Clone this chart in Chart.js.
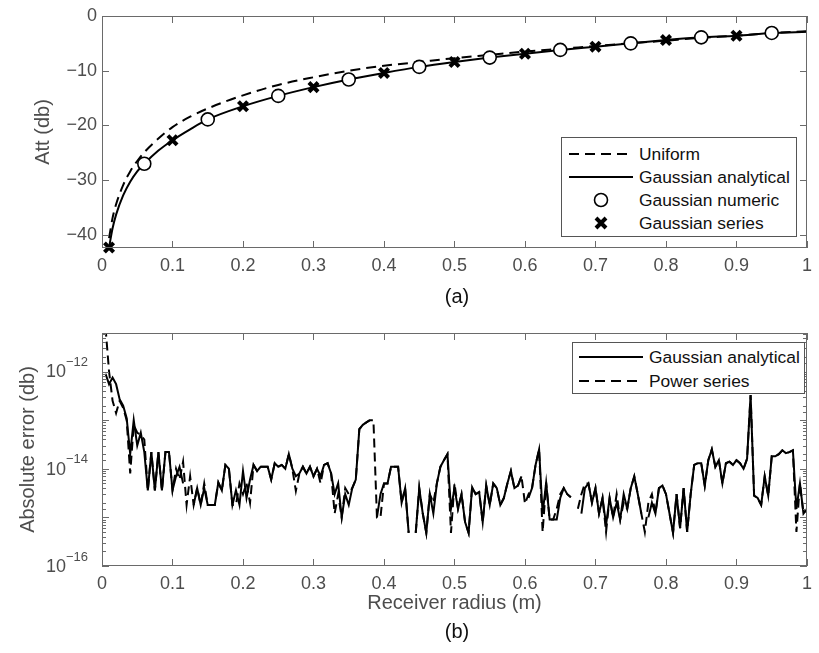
<!DOCTYPE html>
<html>
<head>
<meta charset="utf-8">
<script src="https://cdn.jsdelivr.net/npm/chart.js@4.4.1/dist/chart.umd.min.js"></script>
<style>
  body { margin: 0; background: #fff; }
  #fig { position: relative; width: 819px; height: 653px; background: #fff; font-family: "Liberation Sans", Arial, sans-serif; }
  canvas { position: absolute; left: 0; }
  .panel { position: absolute; left: 0; width: 914px; text-align: center; font-size: 20px; color: #111; }
  .legend { position: absolute; background: #fff; border: 1px solid #555; }
  .row { position: absolute; left: 0; height: 22px; width: 100%; }
  .row svg { position: absolute; left: 0; top: 0; }
  .row span { position: absolute; font-size: 17.4px; line-height: 22px; color: #111; white-space: nowrap; }
</style>
</head>
<body>
<div id="fig">
  <canvas id="attChart" width="819" height="320" style="top:0"></canvas>
  <canvas id="errChart" width="819" height="333" style="top:320px"></canvas>
  <div class="panel" style="top:285px">(a)</div>
  <div class="panel" style="top:620px">(b)</div>

  <div class="legend" style="left:561px;top:137px;width:234px;height:98px">
    <div class="row" style="top:5px">
      <svg width="76" height="22"><line x1="7" y1="11" x2="71" y2="11" stroke="#000" stroke-width="2" stroke-dasharray="10,6"/></svg>
      <span style="left:77px">Uniform</span>
    </div>
    <div class="row" style="top:28px">
      <svg width="76" height="22"><line x1="7" y1="11" x2="71" y2="11" stroke="#000" stroke-width="2"/></svg>
      <span style="left:77px">Gaussian analytical</span>
    </div>
    <div class="row" style="top:51px">
      <svg width="76" height="22"><circle cx="39" cy="11" r="6.5" fill="#fff" stroke="#000" stroke-width="1.6"/></svg>
      <span style="left:77px">Gaussian numeric</span>
    </div>
    <div class="row" style="top:74px">
      <svg width="76" height="22"><path d="M34 6 L44 16 M44 6 L34 16" stroke="#000" stroke-width="4"/></svg>
      <span style="left:77px">Gaussian series</span>
    </div>
  </div>

  <div class="legend" style="left:572px;top:342px;width:231px;height:50px">
    <div class="row" style="top:3px">
      <svg width="76" height="22"><line x1="6" y1="11" x2="70" y2="11" stroke="#000" stroke-width="2"/></svg>
      <span style="left:76px">Gaussian analytical</span>
    </div>
    <div class="row" style="top:27px">
      <svg width="76" height="22"><line x1="6" y1="11" x2="70" y2="11" stroke="#000" stroke-width="2" stroke-dasharray="10,6"/></svg>
      <span style="left:76px">Power series</span>
    </div>
  </div>
</div>

<script>
// ---- panel (a): attenuation vs receiver radius ----
const curveR = [0.01, 0.015, 0.02, 0.03, 0.04, 0.05, 0.06, 0.08, 0.1, 0.125, 0.15, 0.2, 0.25, 0.3, 0.35,
                0.4, 0.45, 0.5, 0.55, 0.6, 0.65, 0.7, 0.75, 0.8, 0.85, 0.9, 0.95, 1.0];
const uniformAtt = [-40.6, -36.9, -34.4, -30.9, -28.4, -26.5, -24.9, -22.4, -20.3, -18.4, -16.9, -14.5, -12.6, -11.2, -10.0,
                    -9.1, -8.4, -7.7, -7.1, -6.5, -6.0, -5.5, -5.0, -4.5, -4.0, -3.6, -3.1, -2.8];
const gaussAtt = [-42.3, -38.8, -36.3, -32.8, -30.3, -28.4, -27.0, -24.6, -22.7, -20.7, -18.9, -16.5, -14.6, -13.0, -11.6,
                  -10.4, -9.3, -8.4, -7.6, -6.9, -6.2, -5.6, -5.0, -4.4, -3.9, -3.6, -3.1, -2.9];
const numericR = [0.06, 0.15, 0.25, 0.35, 0.45, 0.55, 0.65, 0.75, 0.85, 0.95];
const numericAtt = [-27.0, -18.9, -14.6, -11.6, -9.3, -7.6, -6.2, -5.0, -3.9, -3.1];
const seriesR = [0.01, 0.1, 0.2, 0.3, 0.4, 0.5, 0.6, 0.7, 0.8, 0.9];
const seriesAtt = [-42.3, -22.7, -16.5, -13.0, -10.4, -8.4, -6.9, -5.6, -4.4, -3.6];
const attTicks = [0, -10, -20, -30, -40];

// ---- panel (b): absolute error, radius grid 0.005 .. 1.0 ----
const errR = Array.from({length: 200}, (_, i) => +(0.005 * (i + 1)).toFixed(3));
const analyticalErr = [
  9e-13, 5.5e-13, 7.5e-13, 5.5e-13, 2.7e-13, 2e-13, 1.1e-13, 2e-14, 1e-13, 3e-14,
  5.5e-14, 2.2e-14, 3.6e-15, 2.2e-14, 3.6e-15, 2.2e-14, 3.6e-15, 2.2e-14, 2.2e-14, 3.6e-15,
  7e-15, 1.1e-14, 5e-15, null, null, 1.8e-15, 4e-15, 1.8e-15, 4e-15, 1.8e-15,
  1.8e-15, 1.8e-15, 5.2e-15, 3.6e-15, 1.2e-14, 1e-14, 1.8e-15, 3.6e-15, 1.8e-15, 9e-15,
  2.5e-15, 6e-15, 1.2e-14, 9e-15, 1.1e-14, 1.1e-14, 1.1e-14, 6e-15, 1.3e-14, 1.1e-14,
  1.2e-14, 1e-14, 2e-14, 1e-14, 7e-15, 8e-15, 1.1e-14, 8e-15, 1.1e-14, 7e-15,
  1e-14, 7e-15, 1.2e-14, 1.3e-14, 8e-15, 3e-15, 5e-15, 1e-15, 3e-15, 1.8e-15,
  4e-15, 6e-15, 6.5e-14, 8e-14, 9e-14, 1e-13, null, 1e-15, 3e-15, 5e-15,
  5e-15, 1.1e-14, 1.1e-14, 1.1e-14, 2e-15, 4e-15, 4.8e-16, null, 4.8e-16, 4e-15,
  1.2e-15, 4.8e-16, 3e-15, 1.2e-15, 5e-15, 1.1e-14, 1.5e-14, 2e-14, 1.5e-15, 4e-15,
  1.5e-15, 3e-15, 8e-16, 4.8e-16, 4.2e-15, 3e-15, 3.3e-15, 8e-16, 4.5e-15, 1.8e-15,
  5e-15, 4e-15, 1.8e-15, 2.5e-15, 5e-15, 9e-15, 4e-15, 4.5e-15, 7e-15, null,
  2.5e-15, 4e-15, 1.2e-14, 2.5e-14, 1.2e-15, 5.2e-15, 9e-16, 9e-16, 9e-16, 2.5e-15,
  4e-15, 3e-15, 2.6e-15, null, null, 1.2e-15, 4e-15, 5e-15, 2e-15, 4e-15,
  1.2e-15, 2.5e-15, 7e-16, 2.5e-15, 1e-15, 2e-15, 9e-16, 3e-15, 1.5e-15, 4e-15,
  7e-15, 3e-15, 1.2e-15, null, 1e-15, 2e-15, 1.2e-15, 4e-15, 4.5e-15, 3e-15,
  1.2e-15, 4.8e-16, 3e-15, 6e-16, 4e-15, 5e-16, 3e-15, 1.2e-14, 1.3e-14, 1.3e-14,
  4.5e-15, 1.5e-14, 2.5e-14, 1.1e-14, 1.5e-14, 5e-15, 1.3e-14, 1.4e-14, 1.2e-14, 1.5e-14,
  1.3e-14, 1e-14, 1.6e-14, 3.3e-13, 2.8e-15, 2.5e-15, 1.8e-15, 7e-15, 2.8e-15, 1.8e-14,
  1.8e-14, 2e-14, 2.4e-14, 2.1e-14, 2.2e-14, 2.4e-14, 1.5e-15, 5e-15, 1.2e-15, 1.5e-15
];
const powerErr = [
  8e-12, 1e-12, 2.5e-13, 1.4e-13, 2.5e-13, 1.8e-13, 1e-13, 8e-15, 8e-14, 5.5e-14,
  5e-14, 4e-14, 3.6e-15, 2.2e-14, 3.6e-15, 2.2e-14, 3.6e-15, 2.2e-14, 2.2e-14, 3.6e-15,
  1e-14, 6e-15, 1.4e-14, 1.8e-15, 7e-15, 1.8e-15, 4e-15, 1.8e-15, 5e-15, 1.8e-15,
  1.8e-15, 1.8e-15, 5.2e-15, 3.6e-15, 1.2e-14, 1e-14, 1.8e-15, 1.8e-15, 5e-15, 3e-15,
  5e-15, 2e-15, 1.2e-14, 9e-15, 1.1e-14, 1.1e-14, 1.1e-14, 6e-15, 1.3e-14, 1.1e-14,
  1.2e-14, 1e-14, 2e-14, 1e-14, 3.5e-15, 8e-15, 1.1e-14, 8e-15, 1.1e-14, 7e-15,
  1e-14, 5e-15, 1.2e-14, 1.3e-14, 8e-15, 1.2e-15, 3e-15, 1e-15, 4e-15, 3e-15,
  4e-15, 6e-15, 6.5e-14, 8e-14, 9e-14, 1e-13, 1e-13, 1e-15, 1e-15, 5e-15,
  5e-15, 1.1e-14, 1.1e-14, 1.1e-14, 2e-15, 4e-15, 4.8e-16, null, 4.8e-16, 4e-15,
  1.2e-15, 4.8e-16, 3e-15, 2e-15, 5e-15, 1.1e-14, 1.5e-14, 2e-14, 4.8e-16, 5e-15,
  1.5e-15, 3e-15, 8e-16, 4.8e-16, 4.2e-15, 3e-15, 3.3e-15, 8e-16, 4.5e-15, 1.8e-15,
  5e-15, 4e-15, 1.8e-15, 2.5e-15, 5e-15, 9e-15, 4e-15, 4.5e-15, 7e-15, 1.9e-15,
  3e-15, 4e-15, 1.2e-14, 2.5e-14, 5e-16, 5.2e-15, 9e-16, 9e-16, 1.5e-15, 3e-15,
  4e-15, 3e-15, 2.6e-15, null, 1.5e-15, 3e-15, 5e-15, 5e-15, 2e-15, 4e-15,
  1.2e-15, 2.5e-15, 5e-16, 2.5e-15, 1e-15, 3e-15, 9e-16, 2e-15, 1.5e-15, 4e-15,
  7e-15, 3e-15, 1.2e-15, 5e-16, 2e-15, 3e-15, 1.2e-15, 4e-15, 4.5e-15, 3e-15,
  1.2e-15, 4.8e-16, 3e-15, 6e-16, 4e-15, 5e-16, 3e-15, 1.2e-14, 1.3e-14, 1.3e-14,
  4.5e-15, 1.5e-14, 2.5e-14, 1.1e-14, 1.5e-14, 5e-15, 1.3e-14, 1.4e-14, 1.2e-14, 1.5e-14,
  1.3e-14, 1e-14, 1.6e-14, 3.3e-13, 2.8e-15, 2.5e-15, 1.8e-15, 7e-15, 2.8e-15, 1.8e-14,
  1.8e-14, 2e-14, 2.4e-14, 2.1e-14, 2.2e-14, 2.4e-14, 5e-16, 5e-15, 1.2e-15, 1.5e-15
];
const errTickValues = [1e-16, 1e-14, 1e-12];
const errTickExponents = ['\u221216', '\u221214', '\u221212'];

const TEXT = '#4d4d4d';
const AXIS = '#6a6a6a';
const FONT = '"Liberation Sans", Arial, sans-serif';
Chart.defaults.font.family = FONT;
Chart.defaults.font.size = 18;
Chart.defaults.color = TEXT;

const pts = (xs, ys) => xs.map((x, i) => ({x: x, y: ys[i]}));

// matlab style box with inward ticks
const boxTicks = {
  id: 'boxTicks',
  afterDatasetsDraw(chart) {
    const {ctx, chartArea: a, scales} = chart;
    ctx.save();
    ctx.strokeStyle = AXIS;
    ctx.lineWidth = 1;
    ctx.strokeRect(a.left + 0.5, a.top + 0.5, a.right - a.left - 1, a.bottom - a.top - 1);
    ctx.beginPath();
    scales.x.ticks.forEach(t => {
      const px = Math.round(scales.x.getPixelForValue(t.value)) + 0.5;
      ctx.moveTo(px, a.bottom); ctx.lineTo(px, a.bottom - 7);
      ctx.moveTo(px, a.top); ctx.lineTo(px, a.top + 7);
    });
    const ys = scales.y;
    ys.ticks.forEach(t => {
      let len = 7;
      if (ys.type === 'logarithmic') {
        const e = Math.log10(t.value);
        if (t.value >= ys.max) return;
        len = Math.abs(e - Math.round(e)) < 1e-6 ? 7 : 4;
      }
      const py = Math.round(ys.getPixelForValue(t.value)) + 0.5;
      ctx.moveTo(a.left, py); ctx.lineTo(a.left + len, py);
      ctx.moveTo(a.right, py); ctx.lineTo(a.right - len, py);
    });
    ctx.stroke();
    ctx.restore();
  }
};

// 10^n labels with a raised exponent, placed by the log scale
const powerLabels = {
  id: 'powerLabels',
  afterDraw(chart) {
    const {ctx, chartArea: a, scales: {y}} = chart;
    ctx.save();
    ctx.fillStyle = TEXT;
    ctx.textBaseline = 'middle';
    errTickValues.forEach((v, i) => {
      const py = y.getPixelForValue(v);
      ctx.font = '13px ' + FONT;
      ctx.textAlign = 'left';
      const ew = ctx.measureText(errTickExponents[i]).width;
      const right = a.left - 14;
      ctx.fillText(errTickExponents[i], right - ew, py - 9);
      ctx.font = '18px ' + FONT;
      ctx.textAlign = 'right';
      ctx.fillText('10', right - ew, py + 1);
    });
    ctx.restore();
  }
};

const xAxis = (h, title) => ({
  type: 'linear', min: 0, max: 1,
  ticks: {stepSize: 0.1, padding: 7, color: TEXT, callback: v => String(Math.round(v * 10) / 10)},
  grid: {display: false, drawTicks: false},
  border: {display: false},
  title: title,
  afterFit(s) { s.height = h; }
});

new Chart(document.getElementById('attChart'), {
  type: 'line',
  data: {
    datasets: [
      {label: 'Gaussian numeric', data: pts(numericR, numericAtt), showLine: false, pointStyle: 'circle',
       pointRadius: 6.5, pointBorderWidth: 1.6, pointBorderColor: '#000', pointBackgroundColor: '#fff', clip: false, order: 0},
      {label: 'Gaussian series', data: pts(seriesR, seriesAtt), showLine: false, pointStyle: 'crossRot',
       pointRadius: 6.5, pointBorderWidth: 4, pointBorderColor: '#000', clip: false, order: 1},
      {label: 'Gaussian analytical', data: pts(curveR, gaussAtt), borderColor: '#000', borderWidth: 2,
       pointRadius: 0, cubicInterpolationMode: 'monotone', order: 2},
      {label: 'Uniform', data: pts(curveR, uniformAtt), borderColor: '#000', borderWidth: 2, borderDash: [10, 6],
       pointRadius: 0, cubicInterpolationMode: 'monotone', order: 3}
    ]
  },
  options: {
    responsive: false, animation: false, devicePixelRatio: 1,
    layout: {padding: {left: 0, right: 7, top: 16, bottom: 0}},
    plugins: {legend: {display: false}, tooltip: {enabled: false}},
    scales: {
      x: xAxis(72, {display: false}),
      y: {
        type: 'linear', min: -42.4, max: 0,
        ticks: {stepSize: 10, padding: 5, color: TEXT, callback: v => String(v).replace('-', '\u2212')},
        afterBuildTicks(s) { s.ticks = attTicks.map(v => ({value: v})); },
        grid: {display: false, drawTicks: false},
        border: {display: false},
        title: {display: true, text: 'Att (db)', font: {size: 20}, color: TEXT, padding: {top: 31}},
        afterFit(s) { s.width = 102; }
      }
    }
  },
  plugins: [boxTicks]
});

new Chart(document.getElementById('errChart'), {
  type: 'line',
  data: {
    datasets: [
      {label: 'Power series', data: pts(errR, powerErr), borderColor: '#000', borderWidth: 2, borderDash: [9, 5],
       pointRadius: 0, spanGaps: false, order: 0},
      {label: 'Gaussian analytical', data: pts(errR, analyticalErr), borderColor: '#000', borderWidth: 2,
       pointRadius: 0, spanGaps: false, order: 1}
    ]
  },
  options: {
    responsive: false, animation: false, devicePixelRatio: 1,
    layout: {padding: {left: 0, right: 7, top: 13, bottom: 0}},
    plugins: {legend: {display: false}, tooltip: {enabled: false}},
    scales: {
      x: xAxis(87, {display: true, text: 'Receiver radius (m)', font: {size: 20}, color: TEXT, padding: {bottom: 38}}),
      y: {
        type: 'logarithmic', min: 1e-16, max: 6.2e-12,
        ticks: {display: false, autoSkip: false},
        grid: {display: false, drawTicks: false},
        border: {display: false},
        title: {display: true, text: 'Absolute error (db)', font: {size: 20}, color: TEXT, padding: {top: 16}},
        afterFit(s) { s.width = 102; }
      }
    }
  },
  plugins: [boxTicks, powerLabels]
});
</script>
</body>
</html>
